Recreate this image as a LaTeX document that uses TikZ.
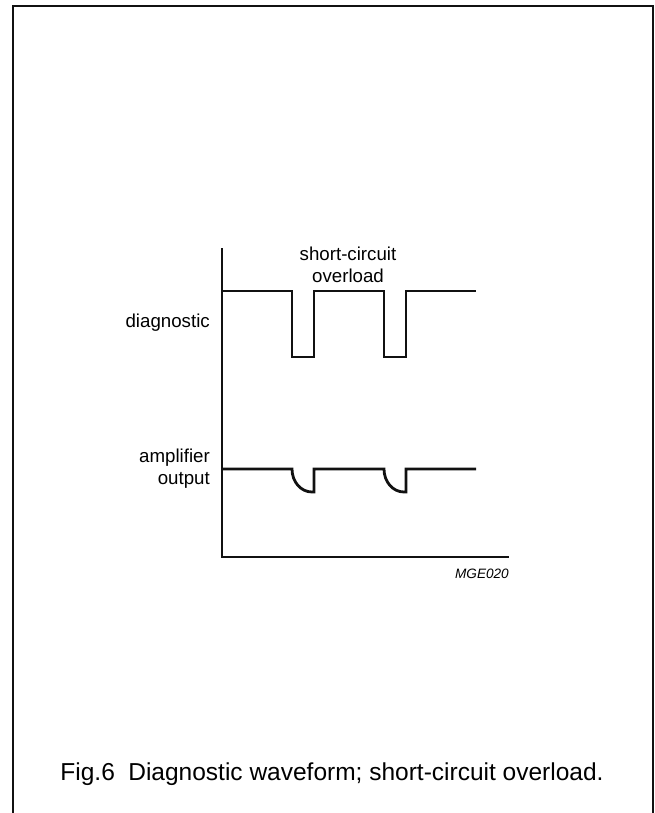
\documentclass[tikz,border=0pt]{standalone}
\usepackage{fontspec}
\setmainfont{Liberation Sans}
\usetikzlibrary{calc}
\definecolor{ink}{HTML}{111111}

\tikzset{
  wave/.style={ink,line width=2.8pt,line join=miter},
  axis/.style={ink,line width=1.5pt},
  lbl/.style={inner sep=0pt,font=\fontsize{18.7}{22.5}\selectfont},
}

\begin{document}
\begin{tikzpicture}[x=1pt,y=-1pt]
  \useasboundingbox (0,0) rectangle (655,813);
  \draw[ink,line width=2pt] (12.5,813) -- (12.5,6.5) -- (652.5,6.5) -- (652.5,813);
  % axes
  \coordinate (top) at (222,248);
  \coordinate (org) at (222,557);
  \coordinate (xend) at (509,557);
  \draw[axis] (top) -- (org) -- (xend);
  % diagnostic: two low pulses
  \draw[wave] (222,291) -- (292,291) -- (292,357) -- (314,357) -- (314,291)
    -- (384,291) -- (384,357) -- (406,357) -- (406,291) -- (476,291);
  % amplifier output: rounded dips
  \draw[wave] (222,469)
    \foreach \p in {292,384}{
      -- (\p,469) .. controls (\p,482) and (\p+9,492) .. (\p+20,492)
      -- (\p+22,492) -- (\p+22,469)
    } -- (476,469);
  \node[lbl,align=center] (sc) at (348,265) {short-circuit\\overload};
  \node[lbl,anchor=east] (diag) at (210,323) {diagnostic};
  \node[lbl,anchor=east,align=right] (amp) at (210,468.5) {amplifier\\output};
  \node[inner sep=0pt,anchor=east,font=\fontsize{13.6}{16}\selectfont\itshape] (code) at (509,574) {MGE020};
  \node[inner sep=0pt,font=\fontsize{24.5}{29}\selectfont] (cap) at (332,774.5)
    {Fig.6\hspace{0.55em}Diagnostic waveform; short-circuit overload.};
\end{tikzpicture}
\end{document}
